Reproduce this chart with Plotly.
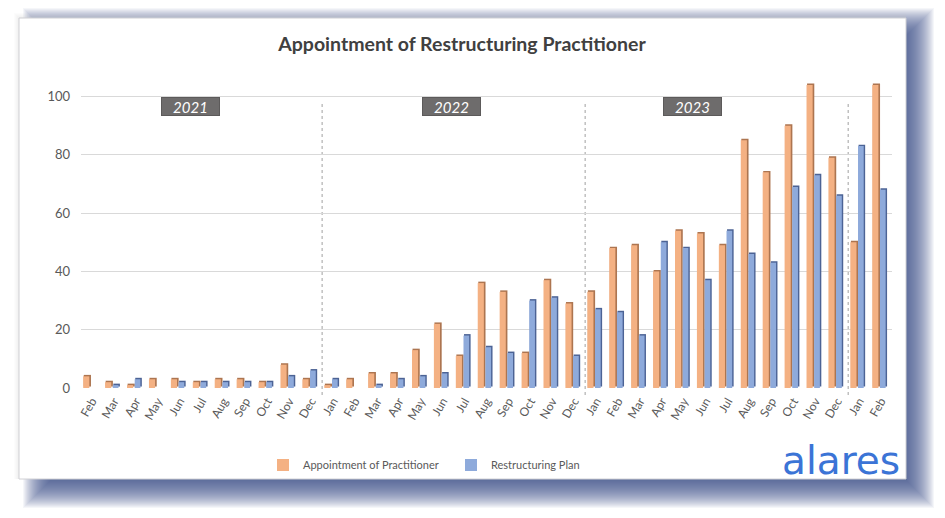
import plotly.graph_objects as go

# ---------------- data ----------------
months = ["Feb", "Mar", "Apr", "May", "Jun", "Jul", "Aug", "Sep", "Oct", "Nov", "Dec",
          "Jan", "Feb", "Mar", "Apr", "May", "Jun", "Jul", "Aug", "Sep", "Oct", "Nov", "Dec",
          "Jan", "Feb", "Mar", "Apr", "May", "Jun", "Jul", "Aug", "Sep", "Oct", "Nov", "Dec",
          "Jan", "Feb"]
appointment = [4, 2, 1, 3, 3, 2, 3, 3, 2, 8, 3,
               1, 3, 5, 5, 13, 22, 11, 36, 33, 12, 37, 29,
               33, 48, 49, 40, 54, 53, 49, 85, 74, 90, 104, 79,
               50, 104]
restructuring = [0, 1, 3, 0, 2, 2, 2, 2, 2, 4, 6,
                 3, 0, 1, 3, 4, 5, 18, 14, 12, 30, 31, 11,
                 27, 26, 18, 50, 48, 37, 54, 46, 43, 69, 73, 66,
                 83, 68]
year_labels = ["2021", "2022", "2023"]
year_breaks = [10.5, 22.5, 34.5]   # between Dec and Jan
series_names = ["Appointment of Practitioner", "Restructuring Plan"]
title_text = "Appointment of Restructuring Practitioner"
y_ticks = [0, 20, 40, 60, 80, 100]

idx = list(range(len(months)))

# ---------------- geometry (reference pixels; page body has 8px margin) ----------------
OFF = 8
W, H = 929, 502
L, R, T, B = 81, 892, 82, 388


def fx(px):
    return (px - L) / (R - L)


def fy(py):
    return (B - py) / (B - T)


ORANGE = "#f4b183"
ORANGE_D = "#ad7550"
BLUE = "#8eaadb"
BLUE_D = "#4c6395"
FONT = "Lato"

fig = go.Figure()

# dark "side" bars (3D effect)
fig.add_trace(go.Bar(x=idx, y=appointment, base=0.5, offset=-0.375, width=0.33,
                     marker=dict(color=ORANGE_D, line=dict(width=0)),
                     showlegend=False, hoverinfo="skip"))
fig.add_trace(go.Bar(x=idx, y=appointment, offset=-0.40, width=0.28,
                     marker=dict(color=ORANGE, line=dict(width=0)),
                     name=series_names[0]))
fig.add_trace(go.Bar(x=idx, y=restructuring, base=0.5, offset=-0.025, width=0.30,
                     marker=dict(color=BLUE_D, line=dict(width=0)),
                     showlegend=False, hoverinfo="skip"))
fig.add_trace(go.Bar(x=idx, y=restructuring, offset=-0.05, width=0.26,
                     marker=dict(color=BLUE, line=dict(width=0)),
                     name=series_names[1]))

shapes = []
# blurred shadow behind the card (offset bottom-right)
core = (45, 30, 912, 486)
alpha = 0.052
for e in range(-10, 23):
    x0, y0, x1, y1 = core[0] - e, core[1] - e, core[2] + e, core[3] + e
    shapes.append(dict(type="rect", xref="paper", yref="paper",
                       x0=fx(x0), x1=fx(x1), y0=fy(y1), y1=fy(y0),
                       fillcolor="rgb(68,86,140)", opacity=alpha,
                       line=dict(width=0), layer="below"))
# faint glow top-left
for e in range(1, 6):
    shapes.append(dict(type="rect", xref="paper", yref="paper",
                       x0=fx(19 - e), x1=fx(906), y0=fy(479), y1=fy(18 - e),
                       fillcolor="rgb(200,200,210)", opacity=0.06,
                       line=dict(width=0), layer="below"))
# card
shapes.append(dict(type="rect", xref="paper", yref="paper",
                   x0=fx(19), x1=fx(906), y0=fy(479), y1=fy(18),
                   fillcolor="white", line=dict(color="#d0d0d4", width=1),
                   layer="below"))
# dotted year separators
for xb in year_breaks:
    shapes.append(dict(type="line", xref="x", yref="paper",
                       x0=xb, x1=xb, y0=fy(395), y1=fy(104),
                       line=dict(color="#a0a0a0", width=1, dash="dot"),
                       layer="below"))

annotations = []
for lab, cx in zip(year_labels, [190.5, 451.3, 692.3]):
    annotations.append(dict(text="<i>" + lab + "</i>", xref="paper", yref="paper",
                            x=fx(cx), y=fy(106), xanchor="center", yanchor="middle",
                            showarrow=False, width=55, height=15, align="center",
                            bgcolor="#6e6c6c", bordercolor="#5c5a5a", borderwidth=1,
                            borderpad=1,
                            font=dict(family=FONT, size=15, color="white")))
annotations.append(dict(text="alares", xref="paper", yref="paper",
                        x=fx(902), y=fy(460), xanchor="right", yanchor="middle",
                        showarrow=False,
                        font=dict(family="DejaVu Sans", size=39, color="#3b74d6")))

fig.update_layout(
    width=W, height=H, autosize=False,
    margin=dict(l=L - OFF, r=(OFF + W) - R, t=T - OFF, b=(OFF + H) - B),
    paper_bgcolor="white", plot_bgcolor="rgba(0,0,0,0)",
    barmode="overlay",
    title=dict(text="<b>" + title_text + "</b>", x=(462 - OFF) / W, xref="container",
               xanchor="center", y=1 - (44 - OFF) / H, yref="container", yanchor="middle",
               font=dict(family=FONT, size=19.5, color="#404040")),
    font=dict(family=FONT, color="#595959"),
    xaxis=dict(range=[-0.5, len(months) - 0.5], tickmode="array", tickvals=idx,
               ticktext=months, tickangle=-60, showgrid=False, zeroline=False,
               showline=False, ticks="", ticklabelstandoff=3,
               tickfont=dict(family=FONT, size=12, color="#595959")),
    yaxis=dict(range=[0, 105], tickmode="array", tickvals=y_ticks,
               showgrid=True, gridcolor="#d9d9d9", gridwidth=1, zeroline=False,
               showline=False, ticks="", ticklabelstandoff=10,
               tickfont=dict(family=FONT, size=13, color="#595959")),
    legend=dict(orientation="h", x=fx(263), y=fy(465), xanchor="left",
                yanchor="middle", font=dict(family=FONT, size=11, color="#595959"),
                bgcolor="rgba(0,0,0,0)", itemwidth=30, traceorder="normal",
                entrywidth=143, entrywidthmode="pixels"),
    shapes=shapes, annotations=annotations,
)

fig.write_html("out.html")
